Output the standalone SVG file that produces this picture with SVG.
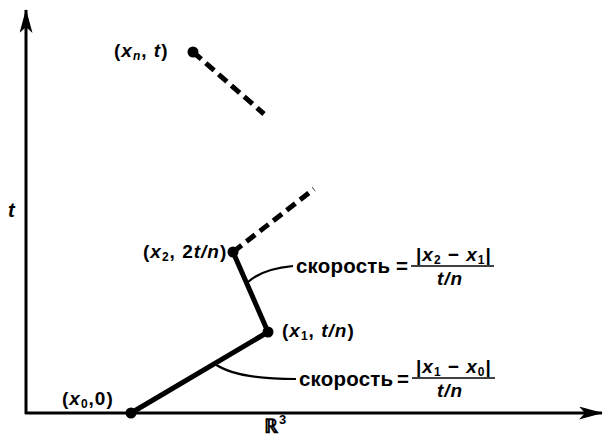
<svg xmlns="http://www.w3.org/2000/svg" width="608" height="442" viewBox="0 0 608 442">
<style>
text{font-family:"Liberation Sans",Arial,sans-serif;font-weight:bold;font-size:19px;fill:#000;letter-spacing:1px}
.i{font-style:italic}
.s{font-size:12px}
.v{font-size:20.5px;letter-spacing:0.2px}
.ax{stroke:#000;stroke-width:3;fill:none}
.seg{stroke:#000;stroke-width:5;fill:none;stroke-linecap:round}
.dash{stroke:#000;stroke-width:5;fill:none;stroke-dasharray:11 6}
.lead{stroke:#000;stroke-width:2.2;fill:none}
.bar{stroke:#000;stroke-width:1.6}
.dot{fill:#000}
</style>
<defs>
<marker id="ah" markerWidth="24" markerHeight="13" refX="23" refY="6.5" orient="auto" markerUnits="userSpaceOnUse">
<path d="M0,0 L24,6.5 L0,13 L6,6.5 Z" fill="#000"/>
</marker>
</defs>
<g id="axes">
<line class="ax" x1="26" y1="414" x2="26" y2="10" marker-end="url(#ah)"/>
<line class="ax" x1="25" y1="413" x2="602" y2="413" marker-end="url(#ah)"/>
<text x="8" y="217" class="i" style="font-size:20px">t</text>
<text x="264" y="433" style="font-size:20px">ℝ<tspan class="s" dy="-9" style="font-size:13px">3</tspan></text>
</g>
<g id="connectors">
<line class="seg" x1="131" y1="413" x2="268" y2="332"/>
<line class="seg" x1="268" y1="332" x2="233" y2="252"/>
<line class="dash" x1="233" y1="252" x2="314" y2="189"/>
<line class="dash" x1="193" y1="52" x2="264" y2="114"/>
<path class="lead" d="M248,282 Q262,269 293,266"/>
<path class="lead" d="M215,364 Q236,379 296,379"/>
</g>
<g id="p0">
<circle class="dot" cx="131" cy="413" r="5.5"/>
<text x="62" y="405">(<tspan class="i">x</tspan><tspan class="s" dy="3">0</tspan><tspan dy="-3">,0)</tspan></text>
</g>
<g id="p1">
<circle class="dot" cx="268" cy="332" r="5.5"/>
<text x="282" y="337">(<tspan class="i">x</tspan><tspan class="s" dy="3">1</tspan><tspan dy="-3">, </tspan><tspan class="i">t/n</tspan>)</text>
</g>
<g id="p2">
<circle class="dot" cx="233" cy="252" r="5.5"/>
<text x="143" y="258">(<tspan class="i">x</tspan><tspan class="s" dy="3">2</tspan><tspan dy="-3">, 2</tspan><tspan class="i">t/n</tspan>)</text>
</g>
<g id="pn">
<circle class="dot" cx="193" cy="52" r="5.5"/>
<text x="114" y="57">(<tspan class="i">x</tspan><tspan class="s i" dy="3">n</tspan><tspan dy="-3">, </tspan><tspan class="i">t</tspan>)</text>
</g>
<g id="v2">
<text x="296" y="273" class="v">скорость</text>
<text x="396" y="273" class="v">=</text>
<text x="416" y="261">|<tspan class="i">x</tspan><tspan class="s" dy="3">2</tspan><tspan dy="-3"> − </tspan><tspan class="i">x</tspan><tspan class="s" dy="3">1</tspan><tspan dy="-3">|</tspan></text>
<line class="bar" x1="411" y1="266" x2="494" y2="266"/>
<text x="437" y="285" class="i">t/n</text>
</g>
<g id="v1">
<text x="299" y="386" class="v">скорость</text>
<text x="397" y="386" class="v">=</text>
<text x="416" y="373">|<tspan class="i">x</tspan><tspan class="s" dy="3">1</tspan><tspan dy="-3"> − </tspan><tspan class="i">x</tspan><tspan class="s" dy="3">0</tspan><tspan dy="-3">|</tspan></text>
<line class="bar" x1="412" y1="378" x2="495" y2="378"/>
<text x="437" y="397" class="i">t/n</text>
</g>
</svg>
